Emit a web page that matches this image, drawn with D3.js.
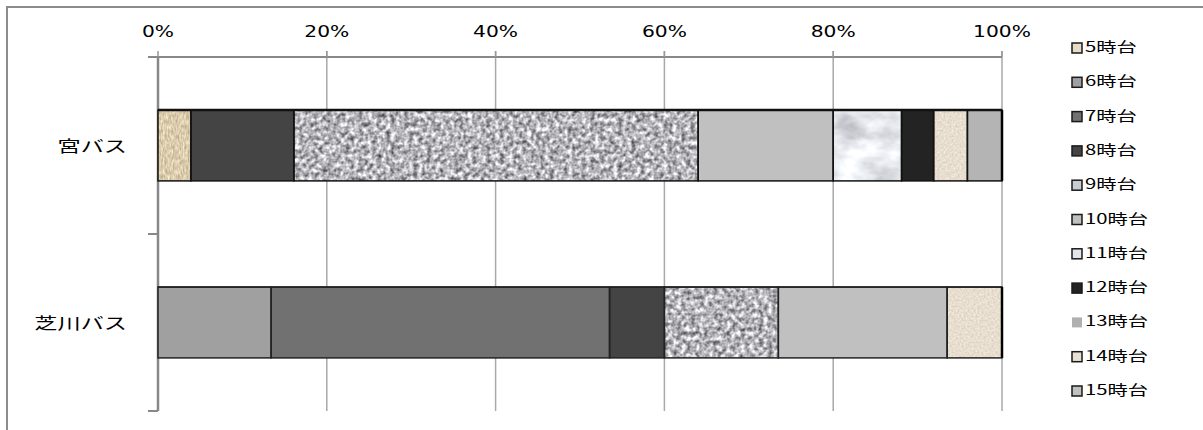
<!DOCTYPE html>
<html><head><meta charset="utf-8">
<script src="https://cdn.jsdelivr.net/npm/d3@7"></script>
<style>html,body{margin:0;padding:0;background:#fff;}svg{display:block;}</style>
</head><body>
<svg id="chart" width="1203" height="430"></svg>
<script>
// ---- data ----
const categories = ["宮バス", "芝川バス"];
const hours = ["5時台","6時台","7時台","8時台","9時台","10時台","11時台","12時台","13時台","14時台","15時台"];
const miyaValues      = [3.9, 0, 0, 12.2, 47.9, 16.0, 8.1, 3.8, 0, 4.0, 4.1];
const shibakawaValues = [0, 13.4, 40.1, 6.5, 13.5, 20.0, 0, 0, 0, 6.5, 0];
const tickValues = [0, 20, 40, 60, 80, 100];
const tickLabels = ["0%", "20%", "40%", "60%", "80%", "100%"];

// ---- styles (not data) ----
const segStyle = [
  {fill:"#ded0b4", filter:"linen"},
  {fill:"#a0a0a0"},
  {fill:"#717171"},
  {fill:"#444444"},
  {fill:"#b0b0b0", filter:"granite"},
  {fill:"#c0c0c0"},
  {fill:"#eceef0", filter:"marble"},
  {fill:"#232323"},
  {fill:"#b0b0b0", noBorder:true},
  {fill:"#e8e0d2", filter:"linen2"},
  {fill:"#b4b4b4"}
];
const legendSwatch = ["#e6dcc6","#a0a0a0","#717171","#444444","#c8ccd0","#c0c0c0","#e2e6ea","#232323","#b0b0b0","#e8e0d2","#c0c0c0"];

const svg = d3.select("#chart");
const SX = 1.45;

// filters
const defs = svg.append("defs");
function noiseFilter(id, freq, oct, type, seed, rows) {
  const f = defs.append("filter").attr("id", id)
    .attr("color-interpolation-filters","sRGB")
    .attr("filterUnits","objectBoundingBox").attr("x",0).attr("y",0).attr("width",1).attr("height",1);
  f.append("feTurbulence").attr("type",type).attr("baseFrequency",freq).attr("numOctaves",oct).attr("seed",seed).attr("result","n");
  f.append("feColorMatrix").attr("in","n").attr("type","matrix").attr("values",rows).attr("result","c");
  f.append("feComposite").attr("in","c").attr("in2","SourceGraphic").attr("operator","in");
}
noiseFilter("granite", "0.22", 2, "fractalNoise", 4,
  "1.15 0 0 0 0.13  1.15 0 0 0 0.13  1.15 0 0 0 0.15  0 0 0 0 1");
noiseFilter("marble", "0.03 0.05", 4, "fractalNoise", 7,
  "0.45 0 0 0 0.68  0.45 0 0 0 0.69  0.45 0 0 0 0.71  0 0 0 0 1");
noiseFilter("linen", "0.6 0.2", 2, "fractalNoise", 2,
  "0.4 0 0 0 0.66  0.4 0 0 0 0.6  0.4 0 0 0 0.48  0 0 0 0 1");
noiseFilter("linen2", "0.5", 2, "fractalNoise", 9,
  "0.2 0 0 0 0.81  0.2 0 0 0 0.77  0.2 0 0 0 0.71  0 0 0 0 1");

// outer frame (left & top visible)
svg.append("rect").attr("x",7).attr("y",7).attr("width",1300).attr("height",500)
  .attr("fill","none").attr("stroke","#8c8c8c").attr("stroke-width",2);

const x = d3.scaleLinear().domain([0,100]).range([158,1002]);
const y = d3.scaleBand().domain(categories).range([57,411]).paddingInner(0.6).paddingOuter(0.3);

// gridlines
svg.append("g").selectAll("line").data(tickValues.slice(1)).join("line")
  .attr("x1",d=>x(d)).attr("x2",d=>x(d)).attr("y1",51).attr("y2",411)
  .attr("stroke","#a8a8a8").attr("stroke-width",1.5);

// top axis
const ax = svg.append("g");
ax.append("line").attr("x1",x(0)).attr("x2",x(100)).attr("y1",57).attr("y2",57)
  .attr("stroke","#888").attr("stroke-width",2);
ax.selectAll("line.t").data(tickValues).join("line").attr("class","t")
  .attr("x1",d=>x(d)).attr("x2",d=>x(d)).attr("y1",51).attr("y2",57)
  .attr("stroke","#999").attr("stroke-width",1.5);
ax.selectAll("text").data(tickValues).join("text")
  .attr("transform",d=>`translate(${x(d)},37) scale(1.35,1)`)
  .attr("text-anchor","middle").attr("font-family","DejaVu Sans").attr("font-size",15)
  .attr("fill","#000").text((d,i)=>tickLabels[i]);

// left axis
const bounds = [57, 57 + (411-57)/2, 411];
svg.append("line").attr("x1",158).attr("x2",158).attr("y1",57).attr("y2",411)
  .attr("stroke","#888").attr("stroke-width",2.5);
svg.append("g").selectAll("line").data(bounds).join("line")
  .attr("x1",148).attr("x2",158).attr("y1",d=>d).attr("y2",d=>d)
  .attr("stroke","#888").attr("stroke-width",2);
svg.append("g").selectAll("text").data(categories).join("text")
  .attr("transform",d=>`translate(127,${y(d)+y.bandwidth()/2+6}) scale(${SX},1)`)
  .attr("text-anchor","end").attr("font-family","Noto Sans CJK JP").attr("font-size",16)
  .attr("fill","#000").text(d=>d);

// bars
const series = [miyaValues, shibakawaValues];
series.forEach((vals, ci) => {
  const cat = categories[ci];
  let acc = 0;
  const segs = vals.map((v,i)=>{ const s={i, x0:acc, x1:acc+v}; acc+=v; return s; }).filter(s=>s.x1>s.x0);
  const g = svg.append("g");
  const strokeCol = ci===0 ? "#111" : "#222";
  g.selectAll("rect.f").data(segs).join("rect").attr("class","f")
    .attr("x",d=>x(d.x0)).attr("width",d=>x(d.x1)-x(d.x0))
    .attr("y",y(cat)).attr("height",y.bandwidth())
    .attr("fill",d=>segStyle[d.i].fill)
    .attr("filter",d=>segStyle[d.i].filter ? `url(#${segStyle[d.i].filter})` : null);
  g.selectAll("rect.s").data(segs).join("rect").attr("class","s")
    .attr("x",d=>x(d.x0)).attr("width",d=>x(d.x1)-x(d.x0))
    .attr("y",y(cat)).attr("height",y.bandwidth())
    .attr("fill","none").attr("stroke",strokeCol).attr("stroke-width",1.5);
  g.append("line").attr("x1",x(0)).attr("x2",x(acc)).attr("y1",y(cat)).attr("y2",y(cat))
    .attr("stroke",strokeCol).attr("stroke-width",ci===0?2.5:1.5);
  g.append("line").attr("x1",x(acc)).attr("x2",x(acc)).attr("y1",y(cat)).attr("y2",y(cat)+y.bandwidth())
    .attr("stroke","#000").attr("stroke-width",2.5);
});

// legend
const lg = svg.append("g");
const ly = d3.scalePoint().domain(hours).range([47, 390]);
hours.forEach((h,i)=>{
  const cy = ly(h);
  lg.append("rect").attr("x",1072).attr("y",cy-4).attr("width",10).attr("height",10)
    .attr("fill",legendSwatch[i])
    .attr("stroke",segStyle[i].noBorder ? "none" : "#1a1a1a").attr("stroke-width",1.5);
  lg.append("text").attr("transform",`translate(1085,${cy+5}) scale(${SX},1)`)
    .attr("font-family","Noto Sans CJK JP").attr("font-size",14).attr("fill","#000").text(h);
});
</script>
</body></html>
